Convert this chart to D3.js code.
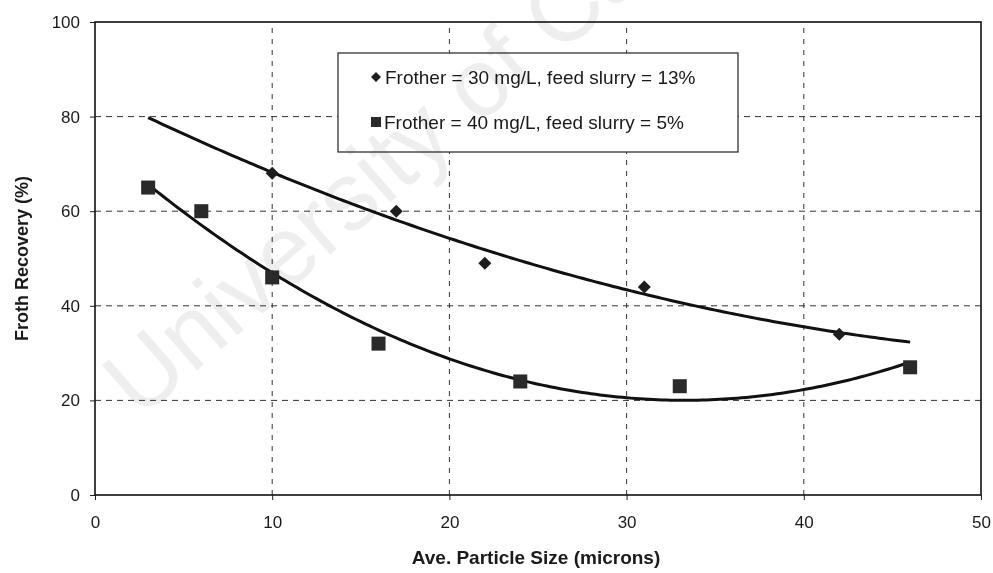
<!DOCTYPE html>
<html>
<head>
<meta charset="utf-8">
<script src="https://cdn.jsdelivr.net/npm/d3@7"></script>
<style>
  html, body { margin: 0; padding: 0; background: #fff; }
  svg { display: block; background: #fff; }
</style>
</head>
<body>
<svg id="chart" width="993" height="573"></svg>
<script>
// ---- data ----
const series1Name = "Frother = 30 mg/L, feed slurry = 13%";
const series1X = [10, 17, 22, 31, 42];
const series1Y = [68, 60, 49, 44, 34];

const series2Name = "Frother = 40 mg/L, feed slurry = 5%";
const series2X = [3, 6, 10, 16, 24, 33, 46];
const series2Y = [65, 60, 46, 32, 24, 23, 27];

const trendRange = [3, 46];
const xTicks = [0, 10, 20, 30, 40, 50];
const yTicks = [0, 20, 40, 60, 80, 100];
const xTitle = "Ave. Particle Size (microns)";
const yTitle = "Froth Recovery (%)";
const watermark = "University of Cape Town";

// ---- layout ----
const W = 993, H = 573;
const m = { left: 95, right: 12, top: 22, bottom: 78 };
const svg = d3.select("#chart");
const x = d3.scaleLinear().domain([0, 50]).range([m.left, W - m.right]);
const y = d3.scaleLinear().domain([0, 100]).range([H - m.bottom, m.top]);
const font = "Liberation Sans, Arial, sans-serif";

// grid
const g = svg.append("g");
g.selectAll(".hg").data(yTicks.filter(d => d > 0 && d < 100)).enter().append("line")
  .attr("x1", x(0)).attr("x2", x(50))
  .attr("y1", d => y(d)).attr("y2", d => y(d))
  .attr("stroke", "#333").attr("stroke-width", 1).attr("stroke-dasharray", "6,5");
g.selectAll(".vg").data(xTicks.filter(d => d > 0 && d < 50)).enter().append("line")
  .attr("y1", y(0)).attr("y2", y(100))
  .attr("x1", d => x(d)).attr("x2", d => x(d))
  .attr("stroke", "#333").attr("stroke-width", 1).attr("stroke-dasharray", "5,6");

// axes
const xAxis = svg.append("g").attr("transform", `translate(0,${y(0)})`)
  .call(d3.axisBottom(x).tickValues(xTicks).tickSize(5).tickPadding(16).tickFormat(d3.format("d")));
const yAxis = svg.append("g").attr("transform", `translate(${x(0)},0)`)
  .call(d3.axisLeft(y).tickValues(yTicks).tickSize(5).tickPadding(10).tickFormat(d3.format("d")));
[xAxis, yAxis].forEach(a => {
  a.select(".domain").remove();
  a.selectAll("line").attr("stroke", "#222");
  a.selectAll("text").attr("font-family", font).attr("font-size", 17).attr("fill", "#1a1a1a");
});

// frame
svg.append("rect")
  .attr("x", x(0)).attr("y", y(100))
  .attr("width", x(50) - x(0)).attr("height", y(0) - y(100))
  .attr("fill", "none").attr("stroke", "#111").attr("stroke-width", 1.6);

// titles
svg.append("text").attr("x", (x(0) + x(50)) / 2 - 2).attr("y", 564)
  .attr("text-anchor", "middle").attr("font-family", font).attr("font-weight", "bold")
  .attr("font-size", 19).attr("fill", "#1a1a1a").text(xTitle);
svg.append("text").attr("transform", `translate(28,${(y(0) + y(100)) / 2}) rotate(-90)`)
  .attr("text-anchor", "middle").attr("font-family", font).attr("font-weight", "bold")
  .attr("font-size", 18).attr("fill", "#1a1a1a").text(yTitle);

// quadratic least-squares trend
function quadFit(xs, ys) {
  const n = xs.length;
  let s = [0,0,0,0,0], t = [0,0,0];
  for (let i = 0; i < n; i++) {
    const xi = xs[i], yi = ys[i];
    for (let k = 0; k < 5; k++) s[k] += Math.pow(xi, k);
    for (let k = 0; k < 3; k++) t[k] += yi * Math.pow(xi, k);
  }
  const A = [[s[0], s[1], s[2], t[0]], [s[1], s[2], s[3], t[1]], [s[2], s[3], s[4], t[2]]];
  for (let i = 0; i < 3; i++) {
    let p = i;
    for (let r = i + 1; r < 3; r++) if (Math.abs(A[r][i]) > Math.abs(A[p][i])) p = r;
    [A[i], A[p]] = [A[p], A[i]];
    for (let r = 0; r < 3; r++) if (r !== i) {
      const f = A[r][i] / A[i][i];
      for (let c = i; c < 4; c++) A[r][c] -= f * A[i][c];
    }
  }
  const c = [A[0][3] / A[0][0], A[1][3] / A[1][1], A[2][3] / A[2][2]];
  return v => c[0] + c[1] * v + c[2] * v * v;
}
function trendPath(xs, ys) {
  const f = quadFit(xs, ys);
  const pts = d3.range(trendRange[0], trendRange[1] + 0.001, 0.25).map(v => [v, f(v)]);
  return d3.line().x(d => x(d[0])).y(d => y(d[1]))(pts);
}
svg.append("path").attr("d", trendPath(series1X, series1Y))
  .attr("fill", "none").attr("stroke", "#111").attr("stroke-width", 3);
svg.append("path").attr("d", trendPath(series2X, series2Y))
  .attr("fill", "none").attr("stroke", "#111").attr("stroke-width", 3);

// markers
const diamondPath = r => `M0,${-r}L${r},0L0,${r}L${-r},0Z`;
svg.selectAll(".s1").data(series1X.map((v, i) => [v, series1Y[i]])).enter().append("path")
  .attr("d", diamondPath(6.5))
  .attr("transform", d => `translate(${x(d[0])},${y(d[1])})`)
  .attr("fill", "#1e1e1e");
const sq = 14;
svg.selectAll(".s2").data(series2X.map((v, i) => [v, series2Y[i]])).enter().append("rect")
  .attr("x", d => x(d[0]) - sq / 2).attr("y", d => y(d[1]) - sq / 2)
  .attr("width", sq).attr("height", sq)
  .attr("fill", "#2a2a2a");

// legend
const lg = svg.append("g");
lg.append("rect").attr("x", 338).attr("y", 53).attr("width", 400).attr("height", 99)
  .attr("fill", "#fff").attr("stroke", "#222").attr("stroke-width", 1.2);
lg.append("path").attr("d", diamondPath(5))
  .attr("transform", "translate(376,77)").attr("fill", "#1e1e1e");
lg.append("rect").attr("x", 371).attr("y", 117).attr("width", 10).attr("height", 10).attr("fill", "#2a2a2a");
lg.append("text").attr("x", 385).attr("y", 77).attr("dy", "0.35em")
  .attr("font-family", font).attr("font-size", 19).attr("fill", "#1a1a1a").text(series1Name);
lg.append("text").attr("x", 384).attr("y", 122).attr("dy", "0.35em")
  .attr("font-family", font).attr("font-size", 19).attr("fill", "#1a1a1a").text(series2Name);

// watermark (multiplied over the scan, like the reference)
svg.append("text")
  .attr("transform", "translate(140,420) rotate(-41)")
  .attr("font-family", font)
  .attr("font-size", 96)
  .attr("fill", "#eeeeee")
  .style("mix-blend-mode", "multiply")
  .text(watermark);
</script>
</body>
</html>
